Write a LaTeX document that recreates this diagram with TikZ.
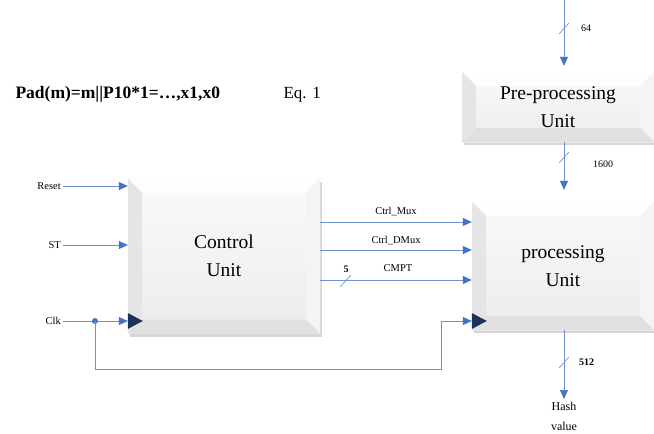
\documentclass[tikz,border=0pt]{standalone}
\usepackage{fontspec}
\setmainfont{Liberation Serif}
\usetikzlibrary{arrows.meta,positioning,shadows,calc}
\definecolor{sigblue}{RGB}{68,114,196}
\definecolor{wireblue}{RGB}{110,145,205}
\definecolor{clknavy}{RGB}{30,48,92}
\tikzset{
  bevel/.style={path picture={
    \path (path picture bounding box.north west) coordinate (bnw)
          (path picture bounding box.north east) coordinate (bne)
          (path picture bounding box.south east) coordinate (bse)
          (path picture bounding box.south west) coordinate (bsw);
    \fill[white, opacity=0.9] (bnw) -- (bne) -- ([shift={(-#1,-#1)}]bne)
      -- ([shift={(#1,-#1)}]bnw) -- cycle;
    \fill[gray!20] (bnw) -- ([shift={(#1,-#1)}]bnw) -- ([shift={(#1,#1)}]bsw)
      -- (bsw) -- cycle;
    \fill[gray!9] (bne) -- ([shift={(-#1,-#1)}]bne) -- ([shift={(-#1,#1)}]bse)
      -- (bse) -- cycle;
    \fill[gray!24] (bsw) -- ([shift={(#1,#1)}]bsw) -- ([shift={(-#1,#1)}]bse)
      -- (bse) -- cycle;
  }},
  unitbox/.style={rectangle, inner sep=0pt, top color=gray!4, bottom color=gray!15,
    align=center, font=\fontsize{19.5}{28}\selectfont,
    drop shadow={shadow xshift=2pt, shadow yshift=-3pt, fill=gray!70, opacity=0.45},
    bevel=14pt},
  sig/.style={draw=wireblue, line width=0.6pt,
    -{Triangle[length=9pt, width=8pt, color=sigblue]}},
  wire/.style={draw=wireblue, line width=0.6pt},
  lbl/.style={font=\fontsize{10.5}{12}\selectfont, inner sep=2pt},
  buslbl/.style={font=\fontsize{10}{12}\selectfont, inner sep=1pt},
  clktri/.style={fill=clknavy},
}

\begin{document}
\begin{tikzpicture}[x=1pt, y=-1pt]
  \clip (0,0) rectangle (654,434);
  \fill[white] (0,0) rectangle (654,434);

  % Padding rule
  \node[font=\fontsize{17.5}{20}\selectfont\bfseries, anchor=base west] (pad) at (12,98)
    {Pad(m)=m||P10*1=…,x1,x0};
  \node[font=\fontsize{17}{20}\selectfont, anchor=base west] (eq) at (280,98) {Eq. 1};

  % Units
  \node[unitbox, minimum width=192pt, minimum height=155pt] (cu) at (224,256)
    {Control\\Unit};
  \node[unitbox, minimum width=192pt, minimum height=70pt] (pre) at (558,107)
    {Pre-processing\\Unit};
  \node[unitbox, minimum width=182pt, minimum height=128pt] (pu) at (563,266)
    {processing\\Unit};

  % Inputs of the control unit
  \node[lbl, anchor=east] (reset) at (63,186) {Reset};
  \node[lbl, anchor=east] (st) at (63,245) {ST};
  \node[lbl, anchor=east] (clk) at (63,321) {Clk};
  \coordinate (clkdot) at (95,321);
  \coordinate (fb) at (441,369);
  \draw[sig] (reset.east) -- (cu.west |- reset);
  \draw[sig] (st.east) -- (cu.west |- st);
  \draw[wire] (clk.east) -- (clkdot);
  \draw[sig] (clkdot) -- (cu.west |- clkdot);
  \fill[sigblue] (clkdot) circle (3pt);
  \draw[sig] (clkdot) |- (fb) |- (pu.west |- clkdot);

  % Clock marks
  \fill[clktri] (cu.west |- clkdot) ++(0,-8) -- ++(15,8) -- ++(-15,8) -- cycle;
  \fill[clktri] (pu.west |- clkdot) ++(0,-8) -- ++(15,8) -- ++(-15,8) -- cycle;

  % Control signals
  \draw[sig] (cu.east |- 0,222) -- (pu.west |- 0,222)
    node[lbl, midway, above=4pt] (mux) {Ctrl\_Mux};
  \draw[sig] (cu.east |- 0,250) -- (pu.west |- 0,250)
    node[lbl, midway, above=3pt] (dmux) {Ctrl\_DMux};
  \draw[sig] (cu.east |- 0,280) -- (pu.west |- 0,280)
    node[lbl, midway, above=6pt, xshift=2pt] (cmpt) {CMPT};
  \draw[wire] (340,287) -- (351,275);
  \node[buslbl, font=\fontsize{10}{12}\selectfont\bfseries] (w5) at (346,269) {5};

  % Data path
  \coordinate (din) at (564,0);
  \draw[sig, shorten >=6pt] (din) -- (pre.north -| din);
  \draw[wire] (559,34) -- (569,23);
  \node[buslbl, anchor=west] (w64) at (580,28) {64};

  \draw[sig, shorten >=12pt] (pre.south -| din) -- (pu.north -| din);
  \draw[wire] (559,163) -- (569,152);
  \node[buslbl, anchor=west] (w1600) at (592,164) {1600};

  \node[font=\fontsize{12}{20}\selectfont, align=center, anchor=north] (hash) at (564,399)
    {Hash\\value};
  \draw[sig] (pu.south -| din) -- (hash.north);
  \draw[wire] (559,368) -- (569,357);
  \node[buslbl, anchor=west, font=\fontsize{10}{12}\selectfont\bfseries] (w512) at (578,362) {512};
\end{tikzpicture}
\end{document}
